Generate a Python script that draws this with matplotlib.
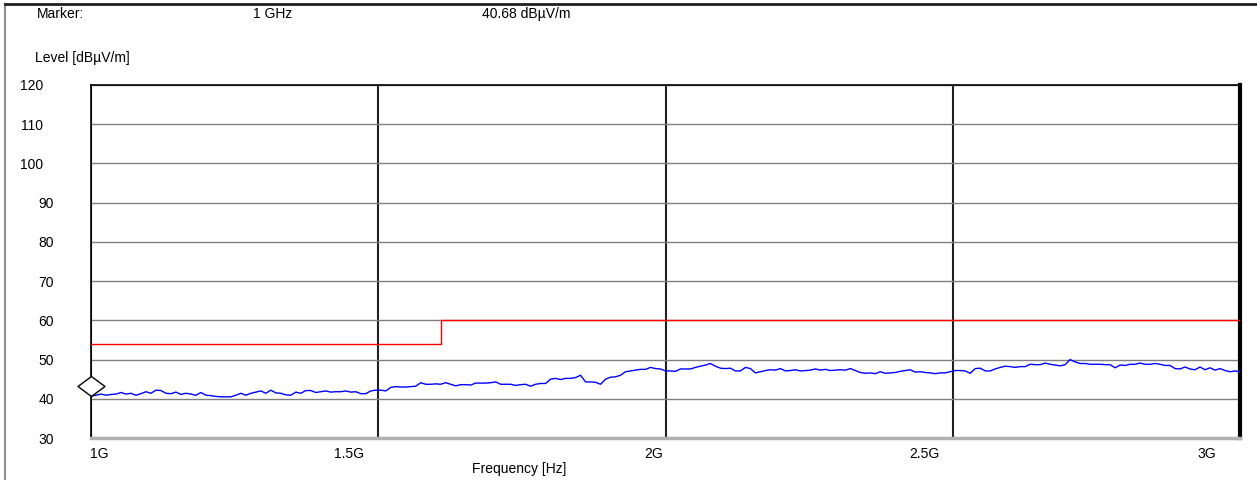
import numpy as np
import matplotlib.pyplot as plt
import matplotlib.transforms as mtransforms
from matplotlib.lines import Line2D

plt.rcParams['font.family'] = ['Liberation Sans', 'DejaVu Sans']

# Messkurve in dBuV/m, 1 GHz bis 3 GHz (gleichmaessiger Sweep)
level = [
    40.7, 40.9, 41.2, 40.9, 41.1, 41.2, 41.6, 41.2, 41.4, 40.9, 41.3, 41.8, 41.4,
    42.2, 42.1, 41.4, 41.3, 41.7, 41.1, 41.4, 41.2, 40.9, 41.6, 40.9, 40.8, 40.6,
    40.5, 40.5, 40.5, 40.9, 41.4, 40.9, 41.4, 41.7, 42.0, 41.4, 42.2, 41.5, 41.4,
    41.0, 40.9, 41.7, 41.4, 42.1, 42.1, 41.6, 41.8, 42.0, 41.7, 41.8, 41.8, 42.0,
    41.7, 41.8, 41.3, 41.3, 42.0, 42.2, 42.2, 42.0, 42.9, 43.1, 43.0, 43.0, 43.1,
    43.2, 44.1, 43.7, 43.7, 43.8, 43.7, 44.1, 43.7, 43.3, 43.6, 43.6, 43.5, 44.0,
    44.0, 44.0, 44.1, 44.3, 43.7, 43.7, 43.7, 43.4, 43.6, 43.7, 43.2, 43.7, 43.9,
    43.9, 45.0, 45.2, 44.9, 45.2, 45.2, 45.4, 46.0, 44.3, 44.3, 44.2, 43.7, 45.0,
    45.5, 45.6, 46.0, 46.9, 47.1, 47.3, 47.5, 47.5, 48.0, 47.7, 47.6, 47.1, 47.1,
    47.0, 47.6, 47.6, 47.6, 48.0, 48.3, 48.6, 49.0, 48.3, 47.8, 47.7, 47.8, 47.1,
    47.1, 48.0, 47.7, 46.6, 46.9, 47.2, 47.4, 47.3, 47.7, 47.1, 47.2, 47.4, 47.1,
    47.2, 47.3, 47.6, 47.3, 47.5, 47.2, 47.3, 47.4, 47.3, 47.7, 47.2, 46.7, 46.5,
    46.6, 46.4, 46.9, 46.5, 46.6, 46.7, 47.0, 47.2, 47.4, 46.8, 46.9, 46.7, 46.6,
    46.4, 46.6, 46.6, 46.9, 47.2, 47.2, 47.1, 46.5, 47.7, 47.8, 47.1, 47.1, 47.6,
    48.0, 48.3, 48.2, 48.0, 48.2, 48.2, 48.8, 48.7, 48.7, 49.1, 48.8, 48.6, 48.4,
    48.7, 50.0, 49.4, 49.0, 49.0, 48.8, 48.8, 48.8, 48.7, 48.7, 47.9, 48.6, 48.5,
    48.8, 48.8, 49.1, 48.8, 48.8, 49.0, 48.8, 48.5, 48.5, 47.7, 47.6, 48.1, 47.6,
    47.4, 48.1, 47.4, 47.9, 47.3, 47.7, 47.2, 46.9, 47.1, 46.9,
]
freq = np.linspace(1000, 3000, len(level))  # MHz

# Grenzwert
limit_freq = [1000, 1610, 3000]
limit_level = [54, 60, 60]

marker_freq = 1000
marker_level = 40.68

x_ticks = [1000, 1500, 2000, 2500, 3000]
x_labels = ['1G', '1.5G', '2G', '2.5G', '3G']
y_ticks = list(range(30, 130, 10))

W, H = 1257, 480
fig = plt.figure(figsize=(W / 100, H / 100), dpi=100)
ax = fig.add_axes([91 / W, 42 / H, 1149 / W, 353 / H])

ax.plot(freq, level, color='#0000ff', lw=1, zorder=3)
ax.plot(limit_freq, limit_level, color='#ff0000', lw=1, drawstyle='steps-post', zorder=3)

# Marker-Raute, untere Spitze auf dem Messwert
diamond = [(0, 0), (13.5, 10), (0, 20), (-13.5, 10), (0, 0)]
ax.plot([marker_freq], [marker_level], marker=diamond, ms=28.8, mfc='white',
        mec='black', mew=1, clip_on=False, zorder=6, ls='none')

ax.set_xlim(1000, 3000)
ax.set_ylim(30, 120)
ax.set_xticks(x_ticks)
ax.set_xticklabels(x_labels)
ax.set_yticks(y_ticks)
ax.set_yticklabels([str(v) for v in y_ticks])
ax.xaxis.grid(True, color='#202020', lw=1.5)
ax.yaxis.grid(True, color='#808080', lw=1)
ax.set_axisbelow(True)
ax.tick_params(axis='both', length=0, labelsize=10, colors='#000000')
ax.tick_params(axis='x', pad=6.5)
ax.tick_params(axis='y', pad=26.5)

for name, sp in ax.spines.items():
    sp.set_color('black')
    sp.set_linewidth(1.2)
ax.spines['right'].set_linewidth(3)
ax.spines['bottom'].set_color('#b0b0b0')
ax.spines['bottom'].set_linewidth(2.5)

# Beschriftungen leicht versetzt wie im Original
x_shift = [8, -29, -12, -28, -33]
for lab, dx in zip(ax.get_xticklabels(), x_shift):
    lab.set_transform(lab.get_transform() +
                      mtransforms.ScaledTranslation(dx / 100, 0, fig.dpi_scale_trans))
for lab in ax.get_yticklabels():
    if len(lab.get_text()) > 2:
        lab.set_transform(lab.get_transform() +
                          mtransforms.ScaledTranslation(-11 / 100, 0, fig.dpi_scale_trans))

fig.text(519 / W, 1 - 469 / H, 'Frequency [Hz]', ha='center', va='center', fontsize=10)
fig.text(35 / W, 1 - 58 / H, 'Level [dBµV/m]', ha='left', va='center', fontsize=10)
fig.text(37 / W, 1 - 14 / H, 'Marker:', ha='left', va='center', fontsize=10)
fig.text(253 / W, 1 - 14 / H, '1 GHz', ha='left', va='center', fontsize=10)
fig.text(482 / W, 1 - 14 / H, '40.68 dBµV/m', ha='left', va='center', fontsize=10)

# Rahmen
fig.add_artist(Line2D([5 / W, 5 / W], [0, 1 - 4 / H], color='#909090', lw=1.5,
                      transform=fig.transFigure))
fig.add_artist(Line2D([5 / W, 1], [1 - 4 / H, 1 - 4 / H], color='#202020', lw=2,
                      transform=fig.transFigure))

fig.savefig('out.png', dpi=100, facecolor='white')
